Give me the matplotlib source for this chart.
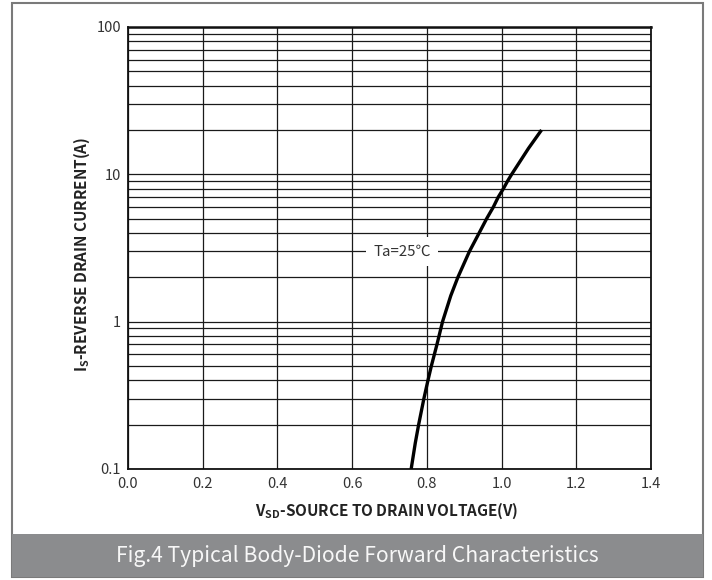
import numpy as np
import matplotlib
matplotlib.use("Agg")
import matplotlib.pyplot as plt
from matplotlib.patches import Rectangle
from matplotlib.ticker import FixedLocator, NullFormatter

plt.rcParams['font.family'] = ['Noto Sans CJK SC', 'DejaVu Sans']
plt.rcParams['mathtext.fontset'] = 'custom'
plt.rcParams['mathtext.rm'] = 'Noto Sans CJK SC'
plt.rcParams['mathtext.bf'] = 'Noto Sans CJK SC:bold'

# data (Ta=25C)
vsd = [0.758, 0.769, 0.778, 0.792, 0.803, 0.812, 0.827, 0.842, 0.864, 0.883,
       0.914, 0.940, 0.960, 0.978, 0.991, 1.005, 1.016, 1.027, 1.072, 1.107]
i_s = [0.1, 0.15, 0.2, 0.3, 0.4, 0.5, 0.7, 1.0, 1.5, 2.0,
       3.0, 4.0, 5.0, 6.0, 7.0, 8.0, 9.0, 10.0, 15.0, 20.0]

x_ticks = [0.0, 0.2, 0.4, 0.6, 0.8, 1.0, 1.2, 1.4]
y_ticks = [0.1, 1, 10, 100]
y_ticklabels = ['0.1', '1', '10', '100']
label_note = 'Ta=25℃'
caption = 'Fig.4 Typical Body-Diode Forward Characteristics'

fig = plt.figure(figsize=(7.12, 5.80), dpi=100)
ax = fig.add_axes([128 / 712, 1 - 469 / 580, 523 / 712, 442 / 580])

ax.set_yscale('log')
ax.set_xlim(0, 1.4)
ax.set_ylim(0.1, 100)

# grid: majors and minors all drawn
minor_y = [m * 10.0 ** e for e in (-1, 0, 1) for m in range(2, 10)]
ax.yaxis.set_major_locator(FixedLocator(y_ticks))
ax.yaxis.set_minor_locator(FixedLocator(minor_y))
ax.yaxis.set_minor_formatter(NullFormatter())
ax.set_yticklabels(y_ticklabels)
ax.set_xticks(x_ticks)
ax.set_xticklabels([f'{v:.1f}' for v in x_ticks])

ax.grid(True, which='both', axis='y', color='#1a1a1a', lw=0.9)
ax.grid(True, which='major', axis='x', color='#1a1a1a', lw=0.9)
ax.tick_params(which='both', length=0, labelsize=10.5, labelcolor='#333333')
ax.tick_params(axis='y', pad=5)
ax.tick_params(axis='x', pad=6)
for s in ax.spines.values():
    s.set_linewidth(1.3)
    s.set_color('#111111')
ax.spines['top'].set_linewidth(1.8)

ax.plot(vsd, i_s, color='black', lw=2.4, solid_capstyle='butt', zorder=4)

ax.text(0.733, 3.0, label_note, ha='center', va='center', fontsize=10.8, color='#333333',
        bbox=dict(boxstyle='square,pad=0.5', fc='white', ec='none'), zorder=5)

ax.set_xlabel(r'$\mathbf{V}_{\mathbf{SD}}$-SOURCE TO DRAIN VOLTAGE(V)',
              fontsize=11, fontweight='bold', color='#222222')
ax.set_ylabel(r'$\mathbf{I}_{\mathbf{S}}$-REVERSE DRAIN CURRENT(A)',
              fontsize=11, fontweight='bold', color='#222222')
ax.xaxis.set_label_coords(0.494, -0.095)
ax.xaxis.label.set_va('center')
ax.yaxis.set_label_coords(-0.088, 0.486)
ax.yaxis.label.set_va('center')

# outer frame and caption bar
fig.patches.append(Rectangle((12 / 712, 3 / 580), 691 / 712, 574 / 580, transform=fig.transFigure,
                             fill=False, ec='#7a7a7a', lw=1.5))
fig.patches.append(Rectangle((12 / 712, 3 / 580), 691 / 712, 43 / 580, transform=fig.transFigure,
                             fc='#8b8c8e', ec='none'))
fig.text(357 / 712, 1 - 556 / 580, caption, ha='center', va='center',
         fontsize=15.2, color='#f7f7f7')

fig.savefig('out.png', dpi=100, facecolor='white')
